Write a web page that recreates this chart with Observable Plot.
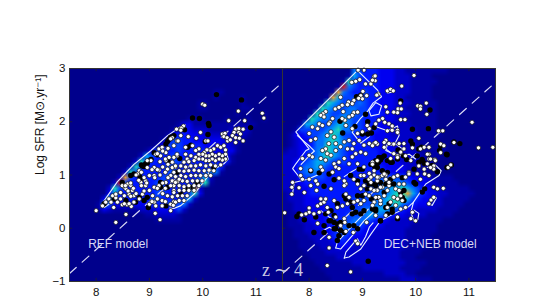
<!DOCTYPE html>
<html><head><meta charset="utf-8">
<script src="https://cdn.jsdelivr.net/npm/d3@7"></script>
<script src="https://cdn.jsdelivr.net/npm/@observablehq/plot@0.6"></script>
<style>html,body{margin:0;padding:0;background:#fff;overflow:hidden;height:305px}svg{display:block;filter:blur(0.35px)}</style>
</head><body><div id="chart"></div>
<script>
const xTicks=[8,9,10,11], yTicks=[-1,0,1,2,3];
const levelColors=["#00008c","#0000a4","#0000c8","#0000f0","#0018ff","#0040ff","#0070ff","#00a8f0","#20d8b0","#e8a030","#d82020"];
// density maps: one string per 0.1 dex row (top y=2.95 first), one hex level per 0.1 dex column (x=7.55 first)
const refDensity=["","","","",
"00000000000000000000000000011",
"000000000000000000000000000100001",
"000000000000000000000000110000001",
"0000000000000000000000001100000011",
"0000000000000000000000000000000100001",
"0000000000000000000000111000010001001",
"00000000000000000000133111111111111",
"0000000000000000000124322211112222",
"0000000000000000001344333222222221",
"000000000000000001355443333332221",
"000000000000000013555444433333 21".replace(" ",""),
"00000000000000135544544444333331",
"0000000000000275444544443333331",
"0000000000002854444554444444341",
"00000000000285444455444444454",
"00000000002854444455444445661",
"000000000295444445544444572",
"000000002a54444455444444681",
"00000002854444445544 44692".replace(" ",""),
"0000000374444444554444583",
"000000374444444554444572",
"00000165333333344455562",
"0000013211111222333352",
"000000000000001122221",
"000000000000000011111"];
while(refDensity.length<40) refDensity.push("");
const decDensity=[
"00000000000006544433322111111110000",
"0000000000001754443332221111",
"00000000000185444433322211111",
"00000000001a6544443332221111",
"0000000001965445443332221111",
"0000000019755545443332211111",
"00000001876555654433322211111",
"00000018765566554433322111111",
"00000187655666554443322211111",
"00001876656765544433322111111",
"00017765567765544433222211111",
"001555556786655444333222 21111".replace(" ",""),
"013345567875544443332222211111",
"01233466787654444333322221111",
"0123346687765444433332222111111",
"1223456787654444443332222111111",
"222345678765444444333322221111",
"22345677654544444433332222111",
"2235667654444444444333322111",
"223566654444444444443332211",
"22245555444444444555555433321111",
"222344444444444455666665433221111",
"22233444444444445566778765332211111",
"122234444444444555667889754332211111",
"12223334444445555667888754332211111",
"1122333344444455566778654333221111",
"112223334444455667776543322221111",
"01122333444455567665433222211111",
"011223334445566654332222211111",
"01112233344566543332222211111",
"00112223345654433222222111111",
"0011122234554333222222211111",
"0001112223443332222222211111",
"000111122233322222222221111",
"00001111222222222222221111",
"00000111112222222222221110",
"0000001111111222222222211110",
"00000001111111122222221111",
"000000001111111111122 2211".replace(" ",""),
"0000000001111111111111222111"];
// contour outlines
const refContours=[
[[8.09,.43],[8.4,.875],[8.71,1.2],[9.03,1.46],[9.34,1.74],[9.59,1.91],[9.68,1.94]],
[[8.09,.43],[8.15,.39],[8.24,.45]],
[[9.38,.38],[9.46,.37],[9.59,.425],[9.84,.64],[10.09,.96],[10.12,1.08],[10.21,1.11],[10.4,1.21],[10.48,1.3],[10.45,1.42]]];
const decContours=[
[[8.875,2.93],[7.75,1.81],[8.0,1.49],[7.94,1.46],[7.75,1.21],[7.69,1.12],[7.84,.93]],
[[7.78,1.74],[8.02,1.53],[8.1,1.45],[8.02,1.38],[7.85,1.2]],
[[8.94,2.93],[9.28,2.6],[9.36,2.47],[9.2,2.35],[9.1,2.2],[8.97,2.07],[8.88,1.95],[8.81,1.8],[8.97,1.6],[9.13,1.72]],
[[9.125,2.21],[9.25,2.36],[9.36,2.3],[9.31,2.14],[9.16,2.11],[9.125,2.21]],
[[9.44,2.58],[9.56,2.62],[9.59,2.56],[9.47,2.54],[9.44,2.58]],
[[9.22,1.92],[9.47,1.83],[9.66,1.92],[9.69,1.74],[9.59,1.55],[9.47,1.58],[9.44,1.46],[9.66,1.36],[9.88,1.39],[10.0,1.3]],
[[9.47,1.58],[9.59,1.61],[9.75,1.49],[9.72,1.36],[9.53,1.42],[9.44,1.49],[9.47,1.58]],
[[8.5,-.37],[8.59,-.39],[8.81,-.14],[9.03,.14],[9.25,.34]],
[[8.5,-.37],[8.53,-.26],[8.69,-.08],[8.97,.21],[9.11,.36]],
[[8.66,-.56],[8.75,-.54],[8.97,-.39],[9.16,-.11],[9.34,.14],[9.59,.27],[9.875,.41],[9.96,.49],[9.91,.3],[9.97,.13],[10.04,.16],[10.06,.28],[9.97,.34]],
[[8.66,-.56],[8.69,-.45],[8.85,-.26],[8.91,-.2],[8.97,-.32],[9.06,-.16],[9.13,.02],[9.2,.1]],
[[9.96,.49],[10.19,.83],[10.44,.99],[10.48,1.08],[10.37,1.19],[10.22,1.14]],
[[10.23,.46],[10.34,.61],[10.39,.57],[10.31,.43],[10.23,.46]],
[[7.69,.66],[7.72,.86],[7.97,.92],[8.16,1.0]],
[[8.25,-.05],[8.38,.02],[8.56,-.07],[8.62,.03],[8.38,.21],[8.22,.33]],
[[8.66,.97],[8.78,1.05],[8.9,1.12]]];
// galaxies: REF model
const refBlack=[[10.26,2.51],[10.73,2.41],[9.81,2.07],[9.94,2.06],[10.11,1.97],[10.12,1.93],[10.9,1.89],[10.1,1.76],[9.66,1.85],[10.05,1.63],[9.78,1.56],[9.72,1.52],[9.4,1.71],[9.46,1.74],[9.34,1.63],[9.37,1.67],[9.43,1.71],[9.31,1.58],[9.09,1.42],[8.99,1.27],[8.93,1.21],[8.87,1.17],[8.96,1.22],[8.9,1.16],[9.03,1.29],[8.85,1.19],[9.15,1.38],[8.71,1.02],[8.65,.99],[8.81,.99],[8.49,.86],[8.15,.46],[8.34,.55],[8.56,.52],[8.81,.58],[8.96,.58],[9.21,.77],[9.52,1.05],[8.9,.52],[8.98,.39],[8.74,.49],[8.84,.93],[9.31,.42],[9.59,.64],[9.82,.77],[9.9,.86],[9.36,1.25],[9.57,1.31],[10.21,1.14],[10.37,1.3],[9.72,.74],[9.21,.86],[9.34,.77]];
const refWhite=[[8,.33],[8.37,.11],[8.56,.26],[9.2,.16],[9.11,.28],[9.4,.33],[8.33,.39],[8.66,.41],[8.49,.44],[8.58,.44],[10,2.33],[10.04,2.31],[10.67,2.2],[11.12,2.16],[11.15,2.07],[10.49,2.02],[10.79,2.02],[9.64,1.92],[9.6,1.88],[9.59,1.84],[9.96,1.8],[9.73,1.72],[9.88,1.69],[9.51,1.86],[9.59,1.74],[9.43,1.7],[9.52,1.64],[10.06,1.64],[10.1,1.64],[10.37,1.77],[10.42,1.78],[10.4,1.72],[10.62,1.86],[10.68,1.87],[10.76,1.86],[10.59,1.8],[10.68,1.8],[10.71,1.77],[10.56,1.74],[10.62,1.7],[10.69,1.69],[10.76,1.64],[10.47,1.64],[10.46,1.7],[10.52,1.66],[10.62,1.61],[10.21,1.49],[10.28,1.55],[10.34,1.52],[10.4,1.55],[10.43,1.47],[10.15,1.46],[10.08,1.47],[10.03,1.42],[9.93,1.49],[9.87,1.46],[9.81,1.55],[9.68,1.52],[10.43,1.39],[10.37,1.36],[10.31,1.39],[10.24,1.36],[10.18,1.39],[10.12,1.36],[10.06,1.36],[10,1.39],[9.93,1.39],[9.87,1.33],[9.78,1.36],[9.71,1.3],[10.43,1.3],[10.37,1.28],[10.31,1.3],[10.24,1.27],[10.18,1.3],[10.12,1.27],[10.06,1.27],[10,1.3],[9.93,1.3],[9.84,1.27],[9.74,1.25],[9.68,1.39],[9.65,1.24],[9.52,1.36],[9.46,1.33],[9.43,1.24],[10.34,1.19],[10.24,1.17],[10.15,1.19],[10.06,1.17],[9.96,1.19],[9.87,1.17],[9.78,1.17],[9.68,1.15],[9.59,1.17],[9.49,1.15],[9.43,1.14],[10.21,1.08],[10.12,1.09],[10.03,1.08],[9.93,1.08],[9.84,1.09],[9.74,1.08],[9.65,1.07],[9.56,1.08],[9.46,1.05],[10.15,.99],[10.06,.99],[9.96,.99],[9.87,.99],[9.78,.99],[9.68,.97],[9.59,.99],[9.49,.97],[9.99,.89],[9.9,.89],[9.81,.89],[9.71,.88],[9.62,.89],[9.53,.88],[9.43,.89],[9.93,.8],[9.84,.8],[9.74,.8],[9.65,.78],[9.56,.8],[9.46,.8],[9.84,.71],[9.74,.71],[9.65,.71],[9.56,.71],[9.46,.71],[9.71,.61],[9.62,.61],[9.53,.61],[9.43,.59],[9.65,.52],[9.56,.52],[9.46,.5],[8.12,.42],[8.18,.49],[8.24,.55],[8.31,.61],[8.37,.57],[8.28,.49],[8.4,.49],[8.37,.64],[8.46,.67],[8.53,.77],[8.59,.83],[8.49,.8],[8.56,.74],[8.65,.8],[8.68,.71],[8.62,.64],[8.71,.61],[8.53,.61],[8.46,.55],[8.53,.46],[8.62,.46],[8.71,.49],[8.81,.55],[8.87,.64],[8.93,.8],[8.84,.86],[8.93,.89],[9,.99],[9.09,.99],[8.81,1.08],[8.78,1.02],[8.96,1.14],[9.09,1.14],[9.18,1.09],[9.03,1.27],[8.96,1.27],[9.12,1.39],[9.21,1.36],[9.18,1.49],[9.24,1.52],[9.31,1.42],[9.37,1.33],[9.4,1.68],[9.54,1.64],[9.46,1.55],[9.52,1.39],[9.31,1.27],[9.34,1.11],[9.49,1.17],[9.4,.99],[9.31,.86],[9.4,.8],[9.49,.86],[9.56,.92],[9.18,.8],[9.09,.77],[9,.71],[9.06,.61],[9.15,.55],[9.24,.52],[9.34,.61],[9.46,.67],[9,.45],[9.09,.49],[9.12,.42],[9.24,.42],[9.4,.45],[9.49,.49],[9.45,.43],[9.3,.5],[9.25,.65],[9.3,.75],[9.05,.5],[9.15,.75],[9.25,.85],[9.35,.95],[9.3,1.05],[9.2,1],[9.1,.95],[9.15,1.1],[9.25,1.15],[9.35,1.2],[9.3,1.3],[9.2,1.25],[9.15,1.4],[9.25,1.45],[9.35,1.5],[9.05,1.1],[8.95,.85],[8.85,.8],[8.9,.95],[8.8,.9],[8.9,.7],[8.75,.65],[8.7,.75],[8.65,.6],[8.6,.7],[8.55,.8],[8.65,.85],[8.75,1],[8.85,1.05]];
// galaxies: DEC+NEB model
const decBlack=[[9.72,2.39],[10.27,2.22],[9.94,1.86],[10.24,1.87],[10.83,1.59],[9.91,1.64],[9.94,1.58],[10.45,1.46],[10.58,1.39],[10.03,1.36],[10.12,1.29],[10.06,1.24],[10.67,1.19],[10.59,1.14],[10.41,1.06],[9.67,1.47],[9.77,1.36],[9.83,1.29],[9.66,1.3],[9.56,1.24],[9.37,1.33],[9.34,1.28],[9.3,1.24],[9.27,1.2],[9.23,1.16],[9.16,1.2],[9,1.11],[8.94,1.11],[9.06,2.14],[8.97,2.5],[8.89,2.47],[9.1,2],[9.22,1.89],[8.86,1.91],[8.58,2.01],[9,1.77],[9.1,1.77],[9.17,1.79],[8.63,1.79],[8.03,1.08],[8.19,1.04],[9.11,-.62],[8.375,1.02],[8.28,.79],[8.47,.91],[8.66,.61],[8.69,.55],[8.78,.49],[8.81,.39],[8.875,.3],[8.97,.27],[9.03,.33],[8.91,.89],[8.78,.99],[9.06,.89],[9.125,.83],[9.09,.74],[9.25,.8],[9,.61],[9.17,.55],[8.91,.61],[9.34,.14],[9.47,.27],[9.56,.36],[9.25,.33],[9.44,.39],[9.28,.58],[7.77,.22],[7.91,.16],[7.81,.27],[8.125,.21],[8.31,.27],[8.41,.14],[8.47,.11],[8.53,.08],[8.59,.11],[8.47,.24],[8.41,.33],[8.53,.46],[8.5,-.01],[8.59,-.04],[8.09,-.08],[8.28,.05],[8.28,-.08],[8.375,.14],[8.56,-.14],[8.53,-.23],[8.66,-.08],[8.75,.05],[8.84,.05],[8.91,-.01],[8.47,-.01],[8.81,.27],[10.06,1.49],[10.11,1.52],[10.47,1.55],[10.59,1.38],[10.72,1.62],[10.13,1.27],[10.16,1.22],[10.31,1.18],[9.97,.86],[10,.83],[10.125,.68],[10.17,.74],[9.25,1.27],[9.31,1.33],[9.41,1.36],[9.47,1.27],[9.53,1.24],[9.28,1.14],[9.375,1.08],[9.47,1.05],[9.53,.92],[9.34,.86],[9.44,.83],[9.72,.67],[9.75,.58],[9.78,.52],[9.53,.83],[9.25,.83],[9.66,.18],[9.34,.14],[9.25,.36],[9.56,.3],[9.19,.36],[9.5,.46],[9.78,.71],[9.19,.83],[9.41,.67],[9.59,.83],[9.75,.95],[9.97,1.11]];
const decWhite=[[9.97,2.87],[9.74,2.67],[9.22,2.85],[9.03,2.97],[8.92,2.97],[9.16,2.71],[9.24,2.77],[9.47,2.58],[9.53,2.61],[9.58,2.58],[9.3,2.52],[9.27,2.5],[10.2,2.35],[10.04,2.3],[10.09,2.29],[10.09,2.24],[10.21,2.14],[9.71,2.35],[9.67,2.24],[9.73,2.24],[9.66,2.17],[9.72,2.04],[9.8,2.04],[11.06,1.99],[10.51,1.83],[10.43,1.83],[10.72,1.61],[11.18,1.51],[11.45,1.52],[10.47,1.58],[10.53,1.55],[10.25,1.39],[10.06,1.69],[10.16,1.52],[10.09,1.49],[10.47,1.42],[8.875,2.76],[8.8,2.74],[8.95,2.79],[9.24,2.86],[9.19,2.78],[9.06,2.71],[9.01,2.57],[9.08,2.49],[8.97,2.49],[9,2.43],[8.93,2.44],[8.59,2.46],[8.74,2.37],[8.84,2.4],[8.81,2.34],[8.72,2.32],[8.62,2.31],[8.49,2.24],[8.56,2.27],[8.64,2.19],[8.31,2.19],[8.26,2.15],[8.22,2.12],[8.44,2.06],[8.39,1.99],[8.28,2.09],[8.84,2.17],[8.91,2.18],[8.81,2.12],[8.75,2.09],[8.67,2.03],[8.62,2.06],[8.69,1.93],[8.19,1.96],[8.25,1.93],[8.37,1.96],[8.16,1.87],[8.06,1.9],[8,1.78],[8.12,1.68],[8.03,1.65],[8.41,1.81],[8.34,1.74],[8.47,1.71],[8.81,1.87],[8.91,1.78],[9,1.81],[9.13,1.87],[9.09,1.93],[9.25,1.96],[9.38,2.06],[9.44,2.28],[9.47,2.18],[9.59,2.18],[9.31,2.03],[9.42,1.99],[9.5,1.96],[8.37,1.59],[8.31,1.49],[8.25,1.46],[8.34,1.4],[8.41,1.37],[8.5,1.46],[8.59,1.53],[8.5,1.59],[8.66,1.62],[8.75,1.65],[8.84,1.59],[8.94,1.65],[9.03,1.56],[9.13,1.59],[9.22,1.59],[8.72,1.49],[8.81,1.49],[8.875,1.4],[8.97,1.43],[9.06,1.4],[8.81,1.34],[8.06,1.34],[8,1.37],[8.22,1.31],[8.31,1.28],[8.47,1.21],[8.5,1.15],[8.56,1.24],[7.875,1.31],[7.84,1.12],[8.03,1.09],[8.22,1.15],[8.25,1.09],[8.44,1.06],[8.56,1.12],[8.66,1.31],[8.75,1.21],[8.91,1.21],[9.03,1.15],[9.19,1.24],[9.41,1.52],[9.5,1.59],[9.44,1.65],[9.59,1.4],[9.53,1.31],[9.56,1.84],[9.66,1.84],[8.97,.99],[9.13,1.03],[9.31,.96],[9.44,1],[9.66,1.8],[9.56,1.92],[9.47,1.83],[9.59,1.58],[9.72,1.42],[9.66,1.36],[10.22,1.21],[10.34,1.17],[10.36,1.29],[10.25,1.3],[10.06,1.17],[10.17,1.02],[10.03,1.02],[9.875,1.05],[7.69,.86],[7.675,.77],[7.675,.64],[7.84,.99],[7.875,.92],[8,.92],[8.03,.8],[7.91,.67],[7.81,.76],[8.16,.83],[8.125,.89],[8.14,.71],[8.41,.74],[8.56,.94],[8.44,1.05],[8.69,.83],[8.66,.89],[8,.38],[8,.3],[7.94,.27],[7.86,.25],[8.09,.27],[8.16,.42],[8.22,.46],[8.28,.49],[8.22,.55],[8.31,.55],[8.34,.39],[8.36,.3],[8.47,.52],[8.53,.39],[8.19,.3],[8.5,.21],[8.16,.09],[8.375,-.17],[8.625,.42],[8.72,.46],[8.75,.58],[8.69,.64],[8.84,.49],[8.91,.52],[8.97,.46],[9.03,.52],[9.125,.61],[9.22,.49],[9.34,.46],[9.44,.24],[9.08,.11],[8.83,-.08],[8.875,-.24],[8.91,-.29],[8.375,-.37],[8.66,.18],[8.67,.11],[8.59,.05],[8.69,-.06],[9.03,.99],[9.125,.92],[9.22,1],[9.16,.86],[9.28,.89],[9.375,.99],[9.44,.92],[9.5,.8],[9.375,.77],[9.28,.71],[9.16,.74],[9.03,.8],[8.97,.74],[9.06,.64],[8.91,.83],[8.84,.92],[8.66,.8],[9.19,1.55],[9.28,1.58],[9.25,1.61],[9.41,1.61],[9.69,1.59],[9.78,1.59],[9.78,1.49],[9.72,1.43],[9.66,1.33],[9.94,1.51],[9.91,1.27],[9.81,1.36],[10.25,1.52],[10.22,1.39],[10.28,1.3],[10.37,1.27],[10.34,1.11],[10.28,1.14],[10.16,1.11],[10.09,.92],[10.25,.99],[10.34,.77],[10.41,.74],[10.52,.75],[10.61,1.14],[10.66,1.19],[9.28,1.27],[9.19,1.2],[9.22,1.08],[9.16,.96],[9.28,.96],[9.41,1.02],[9.59,.96],[9.66,.99],[9.81,.96],[9.875,1.02],[9.69,.83],[9.78,.83],[9.625,.74],[9.69,.71],[9.72,.61],[9.66,.55],[9.75,.52],[9.59,.58],[9.47,.71],[9.41,.61],[9.31,.58],[9.25,.58],[9.81,.39],[9.625,.43],[9.72,.36],[9.53,.49],[9.94,.3],[10,.14],[9.91,.18],[9.66,.21],[9.19,.43],[9.25,.24],[9.47,.39],[9.34,.52],[9.22,.71],[9.34,.77],[9.5,.86],[10.25,.46],[10.29,.53],[10.34,.58],[8.34,-.7],[8.78,-.82],[7.54,.29]];
const dashLine=[[7.5,-.85],[11.42,2.67]];
const inkText="#d8d8f4";
const panels=["REF","DEC"];

const cells=(rows,panel)=>rows.flatMap((r,j)=>[...r.padEnd(40,"0").slice(0,40)].map((c,i)=>({panel,x:7.55+i*.1,y:2.95-j*.1,v:parseInt(c,16)})));
const paths=(list,panel)=>list.flatMap((p,id)=>p.map(d=>({panel,id,x:d[0],y:d[1]})));
const pts=(list,panel)=>list.map(d=>({panel,x:d[0],y:d[1]}));
const lines=panels.flatMap(p=>dashLine.map(d=>({panel:p,x:d[0],y:d[1]})));

const chart=Plot.plot({
  width:550,height:320,marginTop:68,marginBottom:39,marginLeft:68,marginRight:55,
  style:{fontFamily:"'Liberation Sans',Arial,sans-serif",background:"#fff",overflow:"visible"},
  fx:{domain:panels,axis:null,padding:0},
  x:{domain:[7.5,11.5]},
  y:{domain:[-1,3]},
  color:{type:"linear",domain:levelColors.map((_,i)=>i),range:levelColors,clamp:true},
  marks:[
    Plot.raster([...cells(refDensity,"REF"),...cells(decDensity,"DEC")],{x:"x",y:"y",fill:"v",fx:"panel",x1:7.5,x2:11.5,y1:-1,y2:3,width:40,height:40}),
    Plot.line([...paths(refContours,"REF"),...paths(decContours,"DEC")],{x:"x",y:"y",z:"id",fx:"panel",stroke:"#e8f0ff",strokeWidth:1.1}),
    Plot.line(lines,{x:"x",y:"y",fx:"panel",stroke:"#d8d8f4",strokeWidth:1.2,strokeDasharray:"9,8"}),
    Plot.dot([...pts(refBlack,"REF"),...pts(decBlack,"DEC")],{x:"x",y:"y",fx:"panel",r:2.7,fill:"#000",stroke:"none"}),
    Plot.dot([...pts(refWhite,"REF"),...pts(decWhite,"DEC")],{x:"x",y:"y",fx:"panel",r:2.1,fill:"#fff",stroke:"#111",strokeWidth:.7}),
    Plot.ruleX(xTicks,{x:d=>d,y1:-1,y2:-.94,stroke:"#222",strokeWidth:.7}),
    Plot.ruleX(xTicks,{x:d=>d,y1:2.94,y2:3,stroke:"#222",strokeWidth:.7}),
    Plot.ruleY(yTicks,{y:d=>d,x1:7.5,x2:7.56,stroke:"#222",strokeWidth:.7}),
    Plot.frame({stroke:"#333",strokeWidth:1}),
    Plot.axisX(xTicks,{tickSize:0,tickPadding:6,fontSize:11.5,label:null,fill:"#111"}),
    Plot.axisY(yTicks,{tickSize:0,tickPadding:4,fontSize:11.5,label:null,fill:"#111",tickFormat:"d"}),
    Plot.text(["REF model"],{fx:()=>"REF",x:()=>7.85,y:()=>-.29,textAnchor:"start",fontSize:12,fill:inkText}),
    Plot.text(["DEC+NEB model"],{fx:()=>"DEC",x:()=>9.4,y:()=>-.29,textAnchor:"start",fontSize:12,fill:inkText}),
    Plot.text(["z ∼ 4"],{fx:()=>"REF",x:()=>11.5,y:()=>-.78,textAnchor:"middle",fontSize:18,fontFamily:"'Liberation Serif',serif",fill:"#c8c8e4"}),
    Plot.text(["Log Stellar Mass [M⊙]"],{frameAnchor:"bottom",dy:28,fontSize:12,fill:"#111",lineAnchor:"top"}),
    Plot.text(["Log SFR [M⊙.yr⁻¹]"],{fx:()=>"REF",frameAnchor:"left",dx:-29,dy:0,rotate:-90,fontSize:12,fill:"#111"})
  ]
});
document.getElementById("chart").append(chart);
</script></body></html>
